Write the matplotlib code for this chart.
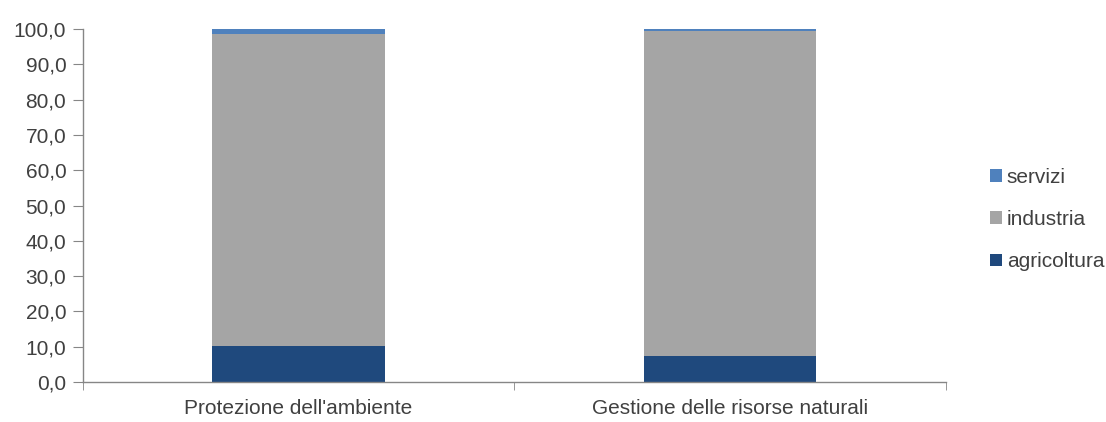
import matplotlib
matplotlib.use('Agg')
from matplotlib import pyplot as plt
from matplotlib.ticker import FuncFormatter, FixedLocator

plt.rcParams['font.family'] = ['Liberation Sans', 'DejaVu Sans']

categorie = ["Protezione dell'ambiente", "Gestione delle risorse naturali"]
agricoltura = [10.3, 7.4]
industria = [88.3, 92.1]
servizi = [1.4, 0.5]

col_agri = '#1F497D'
col_ind = '#A5A5A5'
col_serv = '#4F81BD'
col_axis = '#868686'
col_text = '#404040'

fig = plt.figure(figsize=(11.06, 4.22), dpi=100)
ax = fig.add_axes([0.075, 0.095, 0.780, 0.836])

x = list(range(len(categorie)))
w = 0.40
base2 = [a + b for a, b in zip(agricoltura, industria)]
b1 = ax.bar(x, agricoltura, w, color=col_agri, label='agricoltura')
b2 = ax.bar(x, industria, w, bottom=agricoltura, color=col_ind, label='industria')
b3 = ax.bar(x, servizi, w, bottom=base2, color=col_serv, label='servizi')

ax.set_xlim(-0.5, 1.5)
ax.set_ylim(0, 100)
ax.set_yticks(range(0, 101, 10))
ax.yaxis.set_major_formatter(FuncFormatter(lambda v, p: f'{v:.1f}'.replace('.', ',')))
ax.set_xticks(x)
ax.set_xticklabels(categorie)
ax.xaxis.set_minor_locator(FixedLocator([-0.5, 0.5, 1.5]))

for s in ['top', 'right']:
    ax.spines[s].set_visible(False)
for s in ['left', 'bottom']:
    ax.spines[s].set_color(col_axis)
    ax.spines[s].set_linewidth(1.0)

ax.tick_params(axis='y', direction='out', length=7, color=col_axis, labelsize=15,
               labelcolor=col_text, pad=5)
ax.tick_params(axis='x', which='major', length=0, labelsize=15, labelcolor=col_text, pad=12)
ax.tick_params(axis='x', which='minor', direction='out', length=6, color=col_axis)

handles = [b3, b2, b1]
leg = ax.legend(handles, [h.get_label() for h in handles], loc='center left',
                bbox_to_anchor=(1.03, 0.46), frameon=False, fontsize=15,
                handlelength=0.55, handleheight=0.55, handletextpad=0.25,
                labelspacing=1.12)
for t in leg.get_texts():
    t.set_color(col_text)

fig.savefig('out.png', dpi=100)
